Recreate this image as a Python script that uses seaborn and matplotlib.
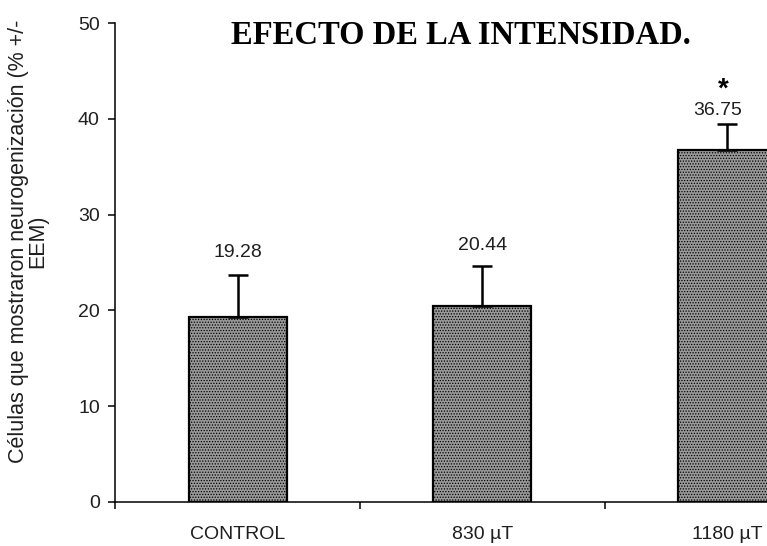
import matplotlib
matplotlib.use("Agg")
import matplotlib.pyplot as plt
import seaborn as sns
import pandas as pd

# Data
categories = ["CONTROL", "830 µT", "1180 µT"]
means = [19.28, 20.44, 36.75]
sem = [4.42, 4.19, 2.71]
value_labels = ["19.28", "20.44", "36.75"]
significant = [False, False, True]
y_ticks = [0, 10, 20, 30, 40, 50]

df = pd.DataFrame({"grupo": categories, "media": means})

sns.set_style("white")
plt.rcParams["font.family"] = ["Liberation Sans", "DejaVu Sans"]
plt.rcParams["hatch.linewidth"] = 0.6

text_color = "#1f1f1f"

fig = plt.figure(figsize=(7.67, 5.46), dpi=100)
# axes run past the right edge of the canvas
ax = fig.add_axes([0.15, 0.0806, 0.958, 0.877])

sns.barplot(data=df, x="grupo", y="media", order=categories, width=0.4,
            color="#999999", edgecolor="black", linewidth=1.6, ax=ax,
            errorbar=None, saturation=1)
for p in ax.patches:
    p.set_hatch("......")

xs = list(range(len(categories)))
ax.errorbar(xs, means, yerr=[[0] * len(sem), sem], fmt="none",
            ecolor="black", elinewidth=1.8, capsize=7, capthick=1.8, zorder=1)

# value labels above the error bars
label_offsets = [(0, 16.5), (0, 14.5), (-7, 10)]
for x, m, e, txt, off in zip(xs, means, sem, value_labels, label_offsets):
    ax.annotate(txt, xy=(x, m + e), xytext=off, textcoords="offset points",
                ha="center", va="center", fontsize=14, color=text_color,
                annotation_clip=False)

for x, m, e, sig in zip(xs, means, sem, significant):
    if sig:
        ax.annotate("*", xy=(x, m + e), xytext=(-3, 25), textcoords="offset points",
                    ha="center", va="center", fontsize=20, fontweight="bold",
                    color="black", annotation_clip=False)

ax.set_xlim(-0.5, len(categories) - 0.5)
ax.set_ylim(0, 50)
ax.set_yticks(y_ticks)
ax.set_yticklabels([str(t) for t in y_ticks])

# boundary ticks on the x axis, category names centred below
ax.set_xticks([i - 0.5 for i in range(len(categories) + 1)])
ax.set_xticklabels([""] * (len(categories) + 1))
ax.set_xticks(xs, minor=True)
ax.set_xticklabels(categories, minor=True)
ax.tick_params(axis="x", which="major", direction="out", length=5, width=1.1,
               color="black", bottom=True)
ax.tick_params(axis="x", which="minor", length=0, pad=17, labelsize=14,
               labelcolor=text_color)
ax.tick_params(axis="y", direction="out", length=5, width=1.1, color="black",
               left=True, pad=6, labelsize=14, labelcolor=text_color)

ax.set_xlabel("")
ax.set_ylabel("")
for s in ("top", "right"):
    ax.spines[s].set_visible(False)
for s in ("left", "bottom"):
    ax.spines[s].set_color("black")
    ax.spines[s].set_linewidth(1.1)

fig.text(28 / 767, 1 - 241 / 546,
         "Células que mostraron neurogenización (% +/-\nEEM)",
         rotation=90, ha="center", va="center", multialignment="center",
         fontsize=15.5, color=text_color, linespacing=0.9)

fig.text(461 / 767, 1 - 35 / 546, "EFECTO DE LA INTENSIDAD.",
         ha="center", va="center", fontsize=23.5, fontweight="bold",
         family=["Liberation Serif", "DejaVu Serif"], color="black")

fig.savefig("out.png", dpi=100)
